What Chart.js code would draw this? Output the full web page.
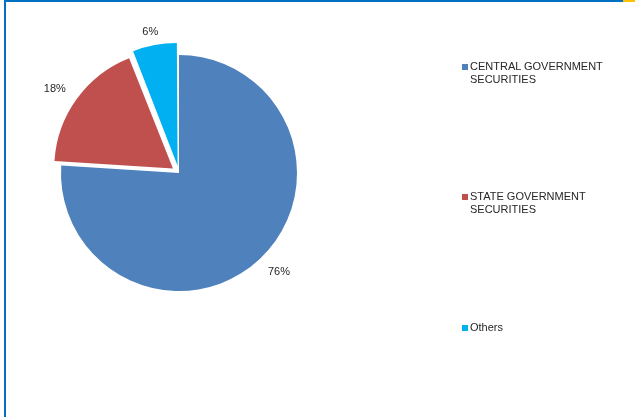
<!DOCTYPE html>
<html><head><meta charset="utf-8">
<script src="https://cdn.jsdelivr.net/npm/chart.js@4/dist/chart.umd.min.js"></script>
<style>
html,body{margin:0;padding:0;background:#fff;}
#wrap{position:relative;width:635px;height:417px;overflow:hidden;font-family:"Liberation Sans",Arial,sans-serif;}
#c{position:absolute;left:0;top:0;}
.frameTop{position:absolute;left:4px;top:0;width:619px;height:2px;background:#0070C0;}
.frameOrange{position:absolute;left:623px;top:0;width:12px;height:2px;background:#FFC000;}
.frameLeft{position:absolute;left:4px;top:0;width:2px;height:417px;background:#0070C0;}
.leg{position:absolute;left:462px;font-size:11px;line-height:13px;color:#262626;}
.leg .sw{position:absolute;left:0;top:4px;width:6px;height:6px;}
.leg .tx{position:absolute;left:8px;top:0;width:150px;}
</style></head>
<body><div id="wrap">
<canvas id="c" width="635" height="417"></canvas>
<div class="frameTop"></div><div class="frameOrange"></div><div class="frameLeft"></div>
<div id="legend"></div>
</div>
<script>
const categories = ["CENTRAL GOVERNMENT SECURITIES", "STATE GOVERNMENT SECURITIES", "Others"];
const shares = [76, 18, 6];
const sliceColors = ["#4F81BD", "#C0504D", "#00B0F0"];
// Chart.js v4 draws an arc shifted by offset/4 pixels
const explode = [0, 30, 30];
const legendTops = [60, 190, 321];

const lg = document.getElementById('legend');
categories.forEach((c, i) => {
  const d = document.createElement('div');
  d.className = 'leg';
  d.style.top = legendTops[i] + 'px';
  d.innerHTML = '<span class="sw" style="background:' + sliceColors[i] + '"></span><span class="tx">' + c + '</span>';
  lg.appendChild(d);
});

const labelPlugin = {
  id: 'outLabels',
  afterDatasetsDraw(chart) {
    const ctx = chart.ctx;
    const meta = chart.getDatasetMeta(0);
    const total = shares.reduce((a, b) => a + b, 0);
    ctx.save();
    ctx.font = '11px "Liberation Sans", Arial, sans-serif';
    ctx.fillStyle = '#262626';
    ctx.textAlign = 'center';
    ctx.textBaseline = 'middle';
    meta.data.forEach((arc, i) => {
      const p = arc.getProps(['x', 'y', 'startAngle', 'endAngle', 'outerRadius']);
      const mid = (p.startAngle + p.endAngle) / 2;
      const shift = explode[i] / 4;
      const cx = p.x + Math.cos(mid) * shift;
      const cy = p.y + Math.sin(mid) * shift;
      const dist = p.outerRadius + 13;
      const x = cx + Math.cos(mid) * (dist + 15);
      const y = cy + Math.sin(mid) * (dist + 5);
      ctx.fillText(Math.round(shares[i] / total * 100) + '%', x, y);
    });
    ctx.restore();
  }
};

new Chart(document.getElementById('c'), {
  type: 'pie',
  data: {
    labels: categories,
    datasets: [{
      data: shares,
      backgroundColor: sliceColors,
      borderWidth: 0,
      offset: explode
    }]
  },
  options: {
    responsive: false,
    animation: false,
    layout: { padding: { left: 46, top: 40, right: 323, bottom: 111 } },
    plugins: { legend: { display: false }, tooltip: { enabled: false } }
  },
  plugins: [labelPlugin]
});
</script>
</body></html>
